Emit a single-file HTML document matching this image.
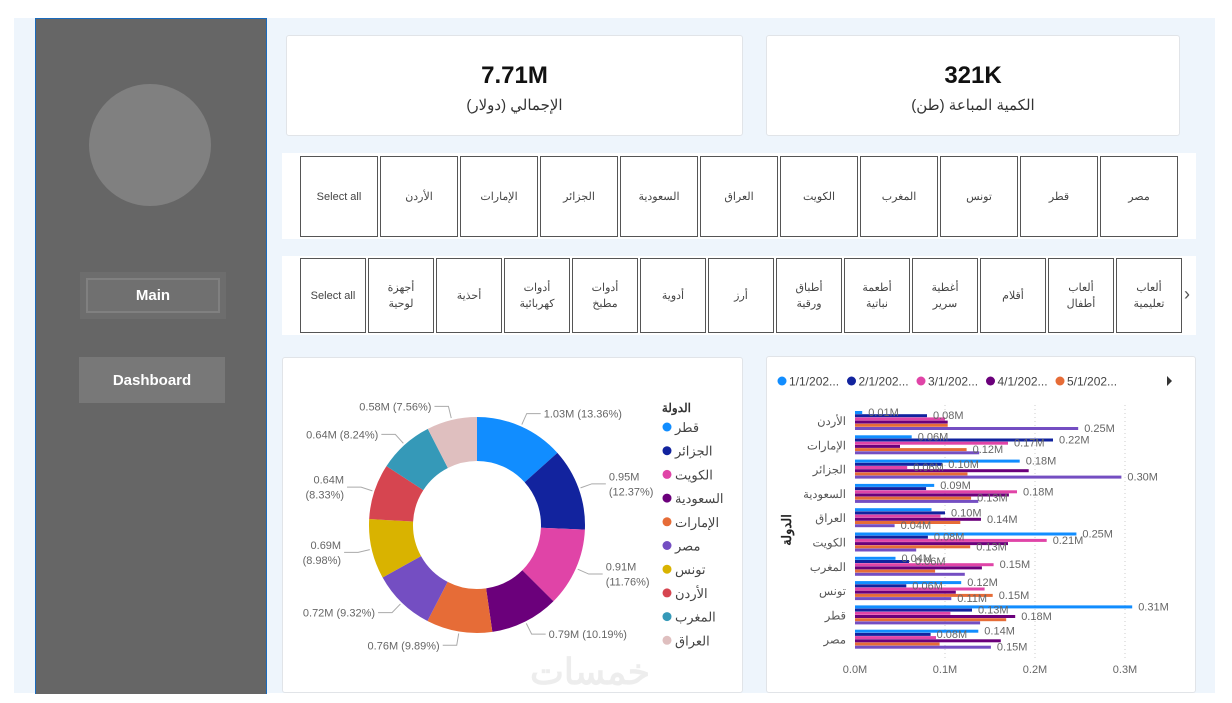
<!DOCTYPE html>
<html><head><meta charset="utf-8">
<style>
*{box-sizing:border-box;margin:0;padding:0}
body{width:1232px;height:703px;background:#fff;position:relative;overflow:hidden;font-family:"Liberation Sans","Noto Sans CJK SC",sans-serif}
.abs{position:absolute}
.bg{left:14px;top:18px;width:1201px;height:675px;background:#EEF5FC}
.side{left:35px;top:18px;width:232px;height:676px;background:#666;border:1px solid #1a6bbd;border-bottom:none}
.btn{color:#fff;font-weight:bold;font-size:15px;display:flex;align-items:center;justify-content:center}
.card{background:#fff;border:1px solid #e1e4e8;border-radius:3px}
.kv{font-size:24px;font-weight:bold;color:#111;text-align:center}
.kl{font-size:15px;color:#333;text-align:center;font-family:"Liberation Sans","Noto Sans CJK SC",sans-serif}
.tile{position:absolute;background:#fff;border:1px solid #555;font-size:11px;color:#444;display:flex;align-items:center;justify-content:center;text-align:center;line-height:16px}
</style></head><body>
<div class="abs bg"></div>
<div class="abs side"></div>
<div class="abs" style="left:89px;top:84px;width:122px;height:122px;border-radius:50%;background:#808080"></div>
<div class="abs btn" style="left:80px;top:272px;width:146px;height:47px;background:#707070;box-shadow:inset 0 0 0 6px #6d6d6d,inset 0 0 0 8px #808080">Main</div>
<div class="abs btn" style="left:79px;top:357px;width:146px;height:46px;background:#787878">Dashboard</div>

<div class="abs card" style="left:286px;top:35px;width:457px;height:101px">
 <div class="kv" style="margin-top:26px">7.71M</div>
 <div class="kl" style="margin-top:6px">الإجمالي (دولار)</div>
</div>
<div class="abs card" style="left:766px;top:35px;width:414px;height:101px">
 <div class="kv" style="margin-top:26px">321K</div>
 <div class="kl" style="margin-top:6px">الكمية المباعة (طن)</div>
</div>

<div class="abs" style="left:282px;top:153px;width:914px;height:86px;background:#fff"></div>
<div class="abs" style="left:282px;top:256px;width:914px;height:79px;background:#fff"></div>
<div class="abs" style="left:1184px;top:284px;font-size:18px;color:#555">›</div>

<div class="abs card" style="left:282px;top:357px;width:461px;height:336px"></div>
<div class="abs card" style="left:766px;top:356px;width:430px;height:337px"></div>

<svg class="abs" style="left:0;top:0" width="1232" height="703" id="svg">
 <text x="590" y="684" font-size="36" fill="#ededed" text-anchor="middle" font-family="Liberation Sans, Noto Sans CJK SC, sans-serif" font-weight="bold">خمسات</text>
 <g id="donut"></g><g id="bars"></g>
</svg>

<script>
const countries=["الأردن","الإمارات","الجزائر","السعودية","العراق","الكويت","المغرب","تونس","قطر","مصر"];
const products=["أجهزة لوحية","أحذية","أدوات كهربائية","أدوات مطبخ","أدوية","أرز","أطباق ورقية","أطعمة نباتية","أغطية سرير","أقلام","ألعاب أطفال","ألعاب تعليمية"];
const donutCats=["قطر","الجزائر","الكويت","السعودية","الإمارات","مصر","تونس","الأردن","المغرب","العراق"];
const donutVals=[1.03,0.95,0.91,0.79,0.76,0.72,0.69,0.64,0.64,0.58];
const donutLabels=["1.03M (13.36%)","0.95M|(12.37%)","0.91M|(11.76%)","0.79M (10.19%)","0.76M (9.89%)","0.72M (9.32%)","0.69M|(8.98%)","0.64M|(8.33%)","0.64M (8.24%)","0.58M (7.56%)"];
const colors=["#118DFF","#12239E","#E044A7","#6B007B","#E66C37","#744EC2","#D9B300","#D64550","#3599B8","#DFBFBF"];
const seriesNames=["1/1/202...","2/1/202...","3/1/202...","4/1/202...","5/1/202..."];
const s1=[0.008,0.063,0.183,0.088,0.085,0.246,0.045,0.118,0.308,0.137];
const s2=[0.080,0.220,0.097,0.079,0.100,0.081,0.060,0.057,0.130,0.084];
const s3=[0.100,0.170,0.058,0.180,0.095,0.213,0.154,0.144,0.106,0.090];
const s4=[0.103,0.050,0.193,0.171,0.140,0.170,0.141,0.112,0.178,0.162];
const s5=[0.103,0.124,0.125,0.129,0.117,0.128,0.089,0.153,0.168,0.094];
const s6=[0.248,0.138,0.296,0.137,0.044,0.068,0.122,0.107,0.139,0.151];
const xTicks=[0,0.1,0.2,0.3];
const xTickLabels=["0.0M","0.1M","0.2M","0.3M"];
const barLabelPicks=[[0,0],[0,1],[0,5],[1,0],[1,1],[1,2],[1,4],[2,0],[2,2],[2,1],[2,5],[3,0],[3,2],[3,4],[4,1],[4,3],[4,5],[5,0],[5,1],[5,2],[5,4],[6,0],[6,1],[6,2],[7,1],[7,0],[7,4],[7,5],[8,0],[8,1],[8,3],[9,1],[9,0],[9,5]];
const series=[s1,s2,s3,s4,s5,s6];
const barColors=["#118DFF","#12239E","#E044A7","#6B007B","#E66C37","#744EC2"];
const NS="http://www.w3.org/2000/svg";
function mk(tag,attrs,parent,text){const e=document.createElementNS(NS,tag);for(const k in attrs)e.setAttribute(k,attrs[k]);if(text!==undefined)e.textContent=text;parent.appendChild(e);return e;}

const r1=["Select all"].concat(countries);
r1.forEach((t,i)=>{const d=document.createElement('div');d.className='tile';d.style.left=(300+i*80)+'px';d.style.top='156px';d.style.width='78px';d.style.height='81px';d.textContent=t;


document.body.appendChild(d);});
const r2=["Select all"].concat(products);
r2.forEach((t,i)=>{const d=document.createElement('div');d.className='tile';d.style.left=(300+i*68)+'px';d.style.top='258px';d.style.width='66px';d.style.height='75px';
if(i===0){d.textContent=t;}else{t.split(' ').forEach((w,j)=>{if(j)d.appendChild(document.createElement('br'));d.appendChild(document.createTextNode(w));});d.style.flexDirection='column';}


document.body.appendChild(d);});

const dg=document.getElementById('donut');
const cx=477,cy=525,R=108,r=64;
const tot=donutVals.reduce((a,b)=>a+b,0);
let a0=0;
donutVals.forEach((v,i)=>{
 const a1=a0+v/tot*2*Math.PI;
 const p=(rad,a)=>[cx+rad*Math.sin(a),cy-rad*Math.cos(a)];
 const [x1,y1]=p(R,a0),[x2,y2]=p(R,a1),[x3,y3]=p(r,a1),[x4,y4]=p(r,a0);
 const lg=(a1-a0)>Math.PI?1:0;
 const s=mk('path',{d:`M${x1},${y1}A${R},${R} 0 ${lg} 1 ${x2},${y2}L${x3},${y3}A${r},${r} 0 ${lg} 0 ${x4},${y4}Z`,fill:colors[i]},dg);
 
 
 const am=(a0+a1)/2;const [ex,ey]=p(R+2,am);const [bx,by]=p(R+14,am);
 const right=Math.sin(am)>=0;const hx=bx+(right?14:-14);
 const ln=mk('polyline',{points:`${ex},${ey} ${bx},${by} ${hx},${by}`,fill:'none',stroke:'#aaa','stroke-width':1},dg);
 
 
 const parts=donutLabels[i].split('|');
 parts.forEach((t,j)=>{const tx=mk('text',{x:hx+(right?3:-3),y:by+4+(j-(parts.length-1)/2)*15,'font-size':11,fill:'#666','text-anchor':right?'start':'end'},dg,t);
  
  });
 a0=a1;
});
const lt=mk('text',{x:691,y:412,'font-size':12,'font-weight':'bold',fill:'#333','text-anchor':'end'},dg,'الدولة');


donutCats.forEach((c,i)=>{const y=427+i*23.7;
 const dot=mk('circle',{cx:667,cy:y,r:4.5,fill:colors[i]},dg);
 
 
 const t=mk('text',{x:675,y:y+5,'font-size':13,fill:'#444'},dg,c);
 
 });

const bg=document.getElementById('bars');
const X0=855,XS=900,G0=411,GS=24.3,BH=3.2;
const xs=v=>X0+v*XS;
seriesNames.forEach((n,i)=>{const x=778+i*69.5;
 const d=mk('circle',{cx:x+4,cy:381,r:4.5,fill:barColors[i]},bg);
 
 
 const t=mk('text',{x:x+11,y:385.5,'font-size':12,fill:'#444'},bg,n);
 
 });
const ar=mk('path',{d:'M1167,376 L1172,381 L1167,386Z',fill:'#333'},bg);


xTicks.forEach((v,i)=>{
 if(v>0){const g=mk('line',{x1:xs(v),x2:xs(v),y1:405,y2:658,stroke:'#ccc','stroke-dasharray':'1,3'},bg);
  
  }
 const t=mk('text',{x:xs(v),y:673,'font-size':11,fill:'#666','text-anchor':'middle'},bg,xTickLabels[i]);
 
 });
countries.forEach((c,g)=>{const top=G0+g*GS;
 series.forEach((s,k)=>{const b=mk('rect',{x:X0,y:top+k*BH,width:Math.max(0,xs(s[g])-X0),height:BH-0.2,fill:barColors[k]},bg);
  
  });
 const t=mk('text',{x:846,y:top+14,'font-size':11.5,fill:'#555','text-anchor':'end'},bg,c);
 
 });
barLabelPicks.forEach(([g,k])=>{const v=series[k][g];
 const t=mk('text',{x:xs(v)+6,y:G0+g*GS+k*BH+5,'font-size':11,fill:'#666'},bg,v.toFixed(2)+'M');
 
 });
const yt=mk('text',{x:0,y:0,'font-size':13,'font-weight':'bold',fill:'#222','text-anchor':'middle',transform:'translate(791,530) rotate(-90)'},bg,'الدولة');


</script>
</body></html>
